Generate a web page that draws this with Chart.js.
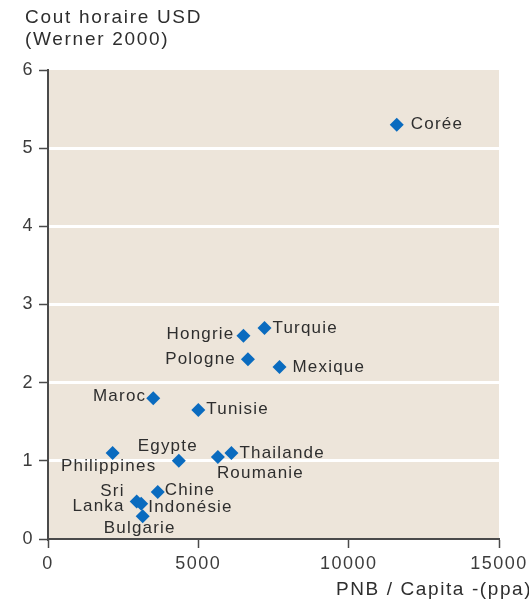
<!DOCTYPE html>
<html>
<head>
<meta charset="utf-8">
<script src="https://cdn.jsdelivr.net/npm/chart.js@4.4.0/dist/chart.umd.min.js"></script>
<style>
  body { margin: 0; background: #fff; }
  canvas { display: block; }
</style>
</head>
<body>
<canvas id="CoutHoraireChart" width="529" height="605"></canvas>
<script>
// data
var pays = ['Corée', 'Turquie', 'Hongrie', 'Pologne', 'Mexique', 'Maroc', 'Tunisie', 'Philippines',
            'Egypte', 'Roumanie', 'Thailande', 'Chine', 'Sri\nLanka', 'Indonésie', 'Bulgarie'];
var pnb_capita = [11600, 7200, 6500, 6650, 7700, 3500, 5000, 2150, 4350, 5650, 6100, 3650, 2950, 3100, 3150];
var cout_horaire = [5.3, 2.7, 2.6, 2.3, 2.2, 1.8, 1.65, 1.1, 1.0, 1.05, 1.1, 0.6, 0.48, 0.45, 0.29];
var x_ticks = [0, 5000, 10000, 15000];
var y_ticks = [0, 1, 2, 3, 4, 5, 6];

// where each name sits next to its point: dx, dy, align
var label_pos = [[14, 0, 'left'], [8, 0, 'left'], [-9, -1, 'right'], [-12, 0, 'right'], [13, 0, 'left'],
                 [-7, -2, 'right'], [8, -1, 'left'], [-4, 13, 'center'], [-11, -15, 'center'], [-1, 16, 'left'],
                 [8, 0, 'left'], [7, -2, 'left'], [-12, -10, 'right'], [7, 3, 'left'], [-3, 12, 'center']];

var FONT = '"Liberation Sans", Arial, Helvetica, sans-serif';
var SPACING = '1.5px';

var points = [];
pnb_capita.forEach((v, i) => points.push({x: v, y: cout_horaire[i]}));

var spacingPlugin = {
  id: 'spacing',
  beforeUpdate: chart => { chart.ctx.letterSpacing = SPACING; },
  beforeDraw: chart => {
    var c = chart.ctx, a = chart.chartArea;
    c.letterSpacing = SPACING;
    c.save();
    c.fillStyle = '#ede5da';
    c.fillRect(a.left, a.top, a.right - a.left, a.bottom - a.top);
    c.restore();
  }
};

var labelsPlugin = {
  id: 'labels',
  afterDatasetsDraw: chart => {
    var c = chart.ctx;
    var meta = chart.getDatasetMeta(0);
    c.save();
    c.letterSpacing = '1.2px';
    c.font = '17px ' + FONT;
    c.fillStyle = '#2e2e2e';
    c.textBaseline = 'middle';
    meta.data.forEach((pt, i) => {
      var p = label_pos[i];
      c.textAlign = p[2];
      pays[i].split('\n').forEach((line, k) => {
        c.fillText(line, pt.x + p[0], pt.y + p[1] + k * 15);
      });
    });
    // axis titles
    c.textAlign = 'left';
    c.font = '19px ' + FONT;
    c.letterSpacing = '1.7px';
    c.fillText('Cout horaire USD', 25, 18);
    c.fillText('(Werner 2000)', 25, 40);
    c.letterSpacing = '1.6px';
    c.fillText('PNB / Capita -(ppa)', 336, 590);
    c.restore();
  }
};

var ctx = document.getElementById('CoutHoraireChart');
var myScatter = new Chart(ctx, {
  type: 'scatter',
  data: {
    datasets: [{
      data: points,
      pointStyle: 'rectRot',
      pointRadius: 7,
      pointHoverRadius: 7,
      backgroundColor: '#0a6bbf',
      borderColor: '#0a6bbf',
      borderWidth: 0
    }]
  },
  options: {
    responsive: false,
    animation: false,
    events: [],
    layout: {padding: {top: 70, right: 30, left: 0, bottom: 0}},
    plugins: {legend: {display: false}, tooltip: {enabled: false}, title: {display: false}},
    scales: {
      x: {
        type: 'linear',
        min: 0, max: 15000,
        afterBuildTicks: s => { s.ticks = x_ticks.map(v => ({value: v})); },
        afterFit: s => { s.height = 66; s.paddingLeft = 0; s.paddingRight = 0; },
        ticks: {
          callback: v => String(v),
          font: {family: FONT, size: 18},
          color: '#3c3c3c',
          padding: 5,
          maxRotation: 0
        },
        grid: {drawOnChartArea: false, tickColor: '#4a4a4a', tickLength: 9, tickWidth: 1.5},
        border: {color: '#4a4a4a', width: 2}
      },
      y: {
        min: 0, max: 6,
        afterBuildTicks: s => { s.ticks = y_ticks.map(v => ({value: v})); },
        afterFit: s => { s.width = 48; s.paddingTop = 0; s.paddingBottom = 0; },
        ticks: {
          callback: v => String(v),
          font: {family: FONT, size: 18},
          color: '#3c3c3c',
          padding: 5
        },
        grid: {
          color: c => (c.tick && c.tick.value > 0 && c.tick.value < 6) ? '#ffffff' : 'rgba(0,0,0,0)',
          lineWidth: 3,
          tickColor: '#4a4a4a',
          tickLength: 9,
          tickWidth: 1.5
        },
        border: {color: '#4a4a4a', width: 2}
      }
    }
  },
  plugins: [spacingPlugin, labelsPlugin]
});
</script>
</body>
</html>
